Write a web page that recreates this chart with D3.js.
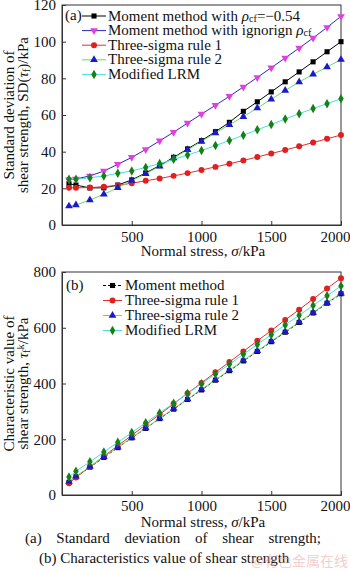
<!DOCTYPE html>
<html><head><meta charset="utf-8">
<script src="https://cdn.jsdelivr.net/npm/d3@7"></script>
<style>
html,body{margin:0;padding:0;background:#fff;}
svg{display:block;font-family:"Liberation Serif","Times New Roman",serif;}
</style></head>
<body>
<svg id="c" width="350" height="571"></svg>
<script>
// ---------- data ----------
const sigma = [50,100,200,300,400,500,600,700,800,900,1000,1100,1200,1300,1400,1500,1600,1700,1800,1900,2000];
// (a) standard deviation of shear strength, kPa
const sdMomentRho    = [22.5,21.8,20.2,20.3,21.8,24.6,28.4,32.4,36.9,41.5,46.0,50.9,56.0,62.0,67.2,72.6,78.1,83.5,89.0,94.5,100.0];
const sdMomentIgnore = [24.7,25.1,26.8,29.4,33.1,36.9,41.2,45.9,50.6,55.6,60.5,65.3,70.2,75.3,80.5,85.8,91.1,96.5,102.0,107.8,113.8];
const sdThreeSigma1  = [20.3,20.3,20.4,20.9,21.6,22.8,24.1,25.4,26.8,28.3,30.0,31.7,33.4,35.2,37.1,39.0,40.9,42.9,45.0,47.0,49.1];
const sdThreeSigma2  = [10.3,10.9,13.6,16.8,20.3,24.2,28.0,32.0,36.5,41.0,45.6,50.2,54.7,59.1,63.8,68.6,73.4,78.0,82.2,86.2,90.2];
const sdModifiedLRM  = [24.9,24.9,25.8,26.7,28.2,29.5,31.4,33.5,35.8,38.2,40.6,43.3,46.1,49.0,51.9,54.8,57.8,60.7,63.5,66.2,68.8];
// (b) characteristic value of shear strength, kPa
const ckMoment      = [45,65,100,135,170,205,239,274,308,343,377,412,446,481,515,550,584,619,653,688,722];
const ckThreeSigma1 = [42,63,101,139,177,214,252,289,327,365,402,440,477,515,553,590,628,665,703,741,778];
const ckThreeSigma2 = [48,67,102,137,171,206,240,275,310,344,379,413,448,483,517,552,586,621,655,690,724];
const ckModifiedLRM = [65,85,119,154,189,224,259,294,329,364,399,434,469,505,540,575,610,645,680,715,750];

const xTicks = [500,1000,1500,2000];
const yTicksA = [0,20,40,60,80,100,120];
const yTicksB = [0,200,400,600,800];

// ---------- drawing ----------
const svg = d3.select("#c");
const FS = 15;
const x = d3.scaleLinear().domain([0,2000]).range([62,341]);
const yA = d3.scaleLinear().domain([0,120]).range([225,5]);
const yB = d3.scaleLinear().domain([0,800]).range([495,272]);

const sym = {
  square: d3.symbol().type(d3.symbolSquare).size(26),
  circle: d3.symbol().type(d3.symbolCircle).size(28),
  tri: d3.symbol().type(d3.symbolTriangle).size(26),
  diamond: d3.symbol().type(d3.symbolDiamond).size(26)
};
const styles = {
  momentRho:   {line:"#000000", mk:"#000000", shape:"square", rot:0},
  momentIgn:   {line:"#2a2ab8", mk:"#e040e0", shape:"tri", rot:180},
  ts1:         {line:"#e03030", mk:"#e02020", shape:"circle", rot:0},
  ts2:         {line:"#66dd66", mk:"#1a1ac8", shape:"tri", rot:0},
  lrm:         {line:"#44e0e0", mk:"#168016", shape:"diamond", rot:0},
  momentB:     {line:"#000000", mk:"#000000", shape:"square", rot:0, dash:"3,2"}
};

function panel(y, yTicks, titleLines, seriesList, tickPad, xTitleBase) {
  const g = svg.append("g");
  g.append("rect").attr("x", x(0)).attr("y", y.range()[1])
    .attr("width", x(2000)-x(0)).attr("height", y.range()[0]-y.range()[1])
    .attr("fill","none").attr("stroke","#333").attr("stroke-width",1);
  const ax = g.append("g").attr("transform",`translate(0,${y.range()[0]})`)
    .call(d3.axisBottom(x).tickValues(xTicks).tickFormat(d3.format("d")).tickSize(-4).tickPadding(tickPad));
  const ay = g.append("g").attr("transform",`translate(${x(0)},0)`)
    .call(d3.axisLeft(y).tickValues(yTicks).tickFormat(d3.format("d")).tickSize(-4).tickPadding(6));
  [ax,ay].forEach(a=>{
    a.select(".domain").attr("stroke","#333");
    a.selectAll(".tick line").attr("stroke","#333");
    a.selectAll("text").attr("font-family","Liberation Serif").attr("font-size",FS).attr("fill","#111");
  });
  // keep the last x label inside the picture, as in the reference
  ax.selectAll(".tick").filter(d=>d===2000).select("text").attr("text-anchor","end").attr("x",9);
  const xt = g.append("text").attr("x",203).attr("y",xTitleBase).attr("text-anchor","middle")
    .attr("font-size",FS).attr("fill","#111");
  xt.append("tspan").text("Normal stress, ");
  xt.append("tspan").attr("font-style","italic").text("σ");
  xt.append("tspan").text("/kPa");
  const cy = (y.range()[0]+y.range()[1])/2;
  titleLines.forEach((parts,i)=>{
    const t = g.append("text").attr("transform",`translate(${[14,28][i]},${cy}) rotate(-90)`)
      .attr("text-anchor","middle").attr("font-size",FS).attr("fill","#111");
    parts.forEach(p=>{
      const s = t.append("tspan").text(p.t);
      if (p.it) s.attr("font-style","italic");
      if (p.sub) s.attr("font-size",FS*0.7).attr("baseline-shift","-20%");
      if (p.sup) s.attr("font-size",FS*0.7).attr("baseline-shift","40%");
    });
  });
  seriesList.forEach(s=>{
    const st = styles[s.style];
    const pts = sigma.map((v,i)=>[v,s.values[i]]);
    g.append("path").datum(pts)
      .attr("d", d3.line().x(d=>x(d[0])).y(d=>y(d[1])))
      .attr("fill","none").attr("stroke",st.line).attr("stroke-width",1)
      .attr("stroke-dasharray", st.dash||null);
    g.selectAll(null).data(pts).enter().append("path")
      .attr("d", sym[st.shape]())
      .attr("transform", d=>`translate(${x(d[0])},${y(d[1])}) rotate(${st.rot})`)
      .attr("fill", st.mk);
  });
  return g;
}

function legend(label, lx, ly, lineX0, lineX1, textX, base0, step, items) {
  svg.append("text").attr("x",lx).attr("y",ly).attr("font-size",FS).attr("fill","#111").text(label);
  items.forEach((it,i)=>{
    const st = styles[it.style];
    const yy = base0 + i*step;
    const cy = yy - 4.5;
    svg.append("line").attr("x1",lineX0).attr("x2",lineX1).attr("y1",cy).attr("y2",cy)
      .attr("stroke",st.line).attr("stroke-width",1).attr("stroke-dasharray",st.dash||null);
    svg.append("path").attr("d",sym[st.shape]())
      .attr("transform",`translate(${(lineX0+lineX1)/2},${cy}) rotate(${st.rot})`).attr("fill",st.mk);
    const t = svg.append("text").attr("x",textX).attr("y",yy).attr("font-size",FS).attr("fill","#111");
    it.parts.forEach(p=>{
      const s = t.append("tspan").text(p.t);
      if (p.it) s.attr("font-style","italic");
      if (p.sub) s.attr("font-size",FS*0.68).attr("baseline-shift","-12%");
    });
  });
}

// panel (a)
panel(yA, yTicksA,
  [[{t:"Standard deviation of"}],
   [{t:"shear strength, SD("},{t:"τ",it:true},{t:"f",sub:true},{t:")/kPa"}]],
  [{values:sdMomentRho, style:"momentRho"},
   {values:sdMomentIgnore, style:"momentIgn"},
   {values:sdThreeSigma1, style:"ts1"},
   {values:sdThreeSigma2, style:"ts2"},
   {values:sdModifiedLRM, style:"lrm"}], 6, 256);
legend("(a)", 65, 20, 82, 106, 108, 20.5, 14.6, [
  {style:"momentRho", parts:[{t:"Moment method with "},{t:"ρ",it:true},{t:"cf",sub:true},{t:"=−0.54"}]},
  {style:"momentIgn", parts:[{t:"Moment method with ignorign "},{t:"ρ",it:true},{t:"cf",sub:true}]},
  {style:"ts1", parts:[{t:"Three-sigma rule 1"}]},
  {style:"ts2", parts:[{t:"Three-sigma rule 2"}]},
  {style:"lrm", parts:[{t:"Modified LRM"}]}
]);

// panel (b)
panel(yB, yTicksB,
  [[{t:"Characteristic value of"}],
   [{t:"shear strength, "},{t:"τ",it:true},{t:"f",sub:true},{t:"k",sup:true},{t:"/kPa"}]],
  [{values:ckMoment, style:"momentB"},
   {values:ckThreeSigma1, style:"ts1"},
   {values:ckThreeSigma2, style:"ts2"},
   {values:ckModifiedLRM, style:"lrm"}], 5, 527);
legend("(b)", 66, 290, 103, 122, 125, 290, 15, [
  {style:"momentB", parts:[{t:"Moment method"}]},
  {style:"ts1", parts:[{t:"Three-sigma rule 1"}]},
  {style:"ts2", parts:[{t:"Three-sigma rule 2"}]},
  {style:"lrm", parts:[{t:"Modified LRM"}]}
]);

// caption
const cap1 = svg.append("text").attr("x",25).attr("y",543).attr("font-size",FS).attr("fill","#111")
  .text("(a) Standard deviation of shear strength;");
const w1 = cap1.node().getComputedTextLength();
cap1.attr("word-spacing", ((321-25)-w1)/5);
svg.append("text").attr("x",39).attr("y",563).attr("font-size",FS).attr("fill","#111")
  .text("(b) Characteristics value of shear strength");
svg.append("text").attr("x",348).attr("y",566).attr("text-anchor","end")
  .attr("font-family","Noto Sans CJK SC").attr("font-size",14).attr("fill","#e8a0a0").attr("opacity",0.5)
  .text("@有色金属在线");
</script>
</body></html>
